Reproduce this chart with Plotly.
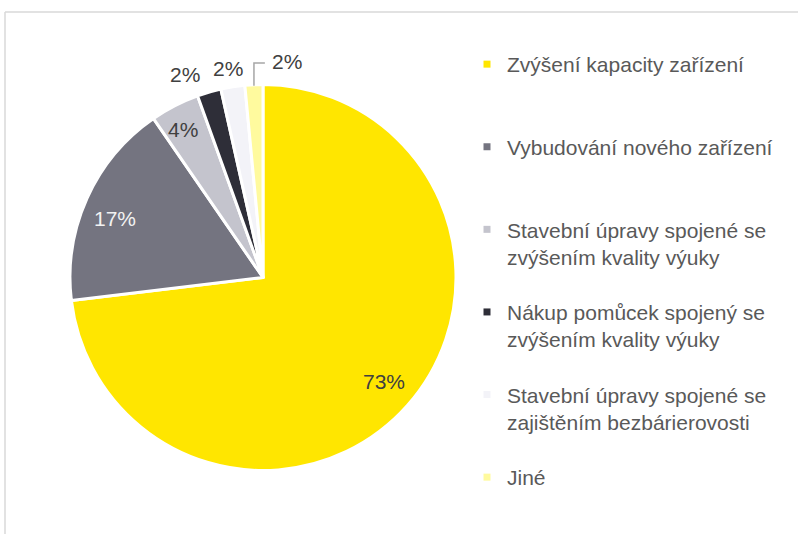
import math
import plotly.graph_objects as go

categories = [
    "Zvýšení kapacity zařízení",
    "Vybudování nového zařízení",
    "Stavební úpravy spojené se<br>zvýšením kvality výuky",
    "Nákup pomůcek spojený se<br>zvýšením kvality výuky",
    "Stavební úpravy spojené se<br>zajištěním bezbárierovosti",
    "Jiné",
]
values = [73.1, 17.3, 4.1, 2.0, 2.0, 1.5]
labels_text = ["73%", "17%", "4%", "2%", "2%", "2%"]
colors = ["#FFE600", "#747480", "#C4C4CD", "#2E2E38", "#F3F3F8", "#FFFA9E"]
text_colors = ["#404040", "#F2F2F2", "#404040", "#404040", "#404040", "#404040"]
# label placement style: radial factor and angular nudge (deg)
label_rfac = [0.825, 0.826, 0.87, 1.125, 1.10, 1.128]
label_nudge = [-1.0, -2.4, -1.3, -4.8, -0.5, 9.0]
leader = [False, False, False, False, False, True]

FONT = "Liberation Sans, Arial, sans-serif"
W, H = 798, 534
CX, CY, R = 263, 277.5, 193   # pie geometry in pixels


def px(x):
    return x / W


def py(y):
    return 1 - y / H


fig = go.Figure()
fig.add_trace(go.Pie(
    labels=categories,
    values=values,
    textinfo="none",
    sort=False,
    direction="clockwise",
    rotation=0,
    marker=dict(colors=colors, line=dict(color="white", width=3)),
    showlegend=False,
    hoverinfo="label+percent",
    domain=dict(x=[px(CX - R), px(CX + R)], y=[py(CY + R), py(CY - R)]),
))

# legend entries (dummy traces)
for i, (name, col) in enumerate(zip(categories, colors)):
    nm = name if "<br>" in name else name + "<br> "
    fig.add_trace(go.Scatter(
        x=[None], y=[None], mode="markers", name=nm,
        marker=dict(symbol="square", size=7, color=col),
        legendgroup=f"g{i}", showlegend=True,
    ))

# data labels placed along slice mid-angles
annotations = []
shapes = []
total = sum(values)
cum = 0.0
for i, v in enumerate(values):
    mid = (cum + v / 2) / total * 360.0
    cum += v
    ang = math.radians(mid + label_nudge[i])
    r = R * label_rfac[i]
    lx = CX + r * math.sin(ang)
    ly = CY - r * math.cos(ang)
    annotations.append(dict(
        x=px(lx), y=py(ly), xref="paper", yref="paper", text=labels_text[i],
        showarrow=False, xanchor="center", yanchor="middle",
        font=dict(family=FONT, size=21, color=text_colors[i]),
    ))
    if leader[i]:
        am = math.radians(mid)
        sx = CX + (R - 1) * math.sin(am)
        sy = CY - (R - 1) * math.cos(am)
        ty = ly + 2
        tx = lx - 22
        shapes.append(dict(
            type="path", xref="paper", yref="paper",
            path=f"M {px(sx)},{py(sy)} L {px(sx)},{py(ty)} L {px(tx)},{py(ty)}",
            line=dict(color="#A6A6A6", width=1.5),
        ))

# outer frame (partially visible chart border)
shapes += [
    dict(type="line", xref="paper", yref="paper", x0=px(5), x1=1.0, y0=py(12), y1=py(12),
         line=dict(color="#D9D9D9", width=1.5)),
    dict(type="line", xref="paper", yref="paper", x0=px(5), x1=px(5), y0=0, y1=py(12),
         line=dict(color="#D9D9D9", width=1.5)),
]

fig.update_layout(
    width=W, height=H,
    margin=dict(l=0, r=0, t=0, b=0),
    paper_bgcolor="white", plot_bgcolor="white",
    xaxis=dict(visible=False), yaxis=dict(visible=False),
    font=dict(family=FONT, color="#595959"),
    legend=dict(
        x=px(467), y=py(44), xanchor="left", yanchor="top",
        font=dict(family=FONT, size=21, color="#595959"),
        valign="top", tracegroupgap=25, bgcolor="rgba(0,0,0,0)",
    ),
    annotations=annotations,
    shapes=shapes,
)

fig.write_html("out.html", config={"displayModeBar": False},
               post_script="document.body.style.margin='0';")
